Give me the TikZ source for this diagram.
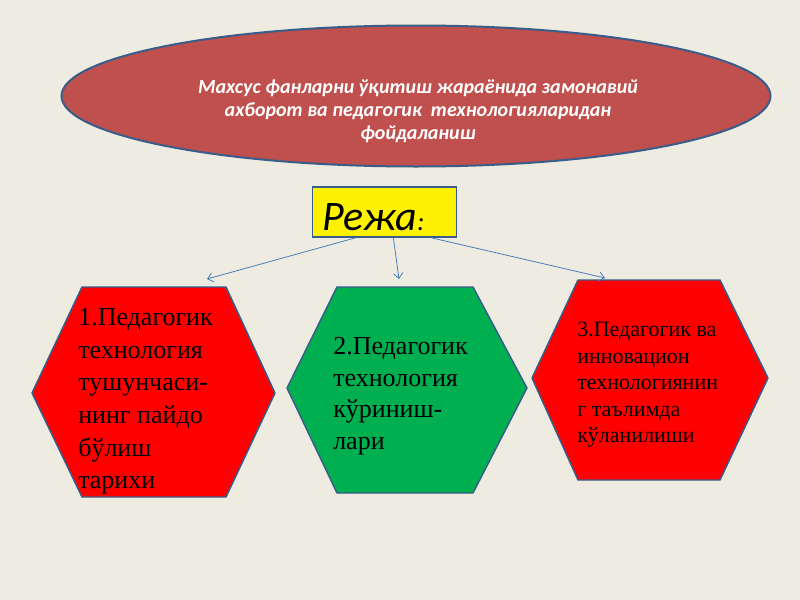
\documentclass[tikz,border=0pt]{standalone}
\usepackage{fontspec}
\setmainfont{Liberation Serif}
\newfontfamily\calibri{Carlito}
\usetikzlibrary{shapes.geometric,arrows.meta}
\definecolor{bgcol}{HTML}{EEECE1}
\definecolor{ovalred}{HTML}{C0504D}
\definecolor{edgeblue}{HTML}{385D8A}
\definecolor{arrowblue}{HTML}{4A7EBB}
\definecolor{hexgreen}{HTML}{00B050}
\begin{document}
\begin{tikzpicture}[x=0.75pt, y=-0.75pt,
    hexa/.style={draw=edgeblue, line width=1.1pt, line join=round},
    hextext/.style={anchor=north west, inner sep=0pt, align=left},
    link/.style={draw=arrowblue, line width=0.6pt, -{Straight Barb[length=4pt,width=7pt]}}]
    \fill[bgcol] (0,0) rectangle (800,600);
    \useasboundingbox (0,0) rectangle (800,600);
    \node[ellipse, draw=edgeblue, line width=1.5pt, fill=ovalred, inner sep=0pt,
        minimum width=531.75pt, minimum height=105.75pt] (topic) at (416,96) {};
    \node[align=center, text=white, font=\calibri\bfseries\itshape\fontsize{15}{17.25}\selectfont]
        (topictext) at (418,111) {Махсус фанларни ўқитиш жараёнида замонавий\\
        ахборот ва педагогик\ \ технологияларидан\\ фойдаланиш};
    \node[draw=edgeblue, line width=1pt, fill=yellow, minimum width=108pt, minimum height=37.5pt,
        inner sep=0pt] (plan) at (384.5,212) {};
    \node[anchor=base west, inner sep=0pt, font=\calibri\itshape\fontsize{31.5}{36}\selectfont]
        (plantext) at (322,230) {Режа{\fontsize{20}{24}\selectfont:}};
    \filldraw[hexa, fill=red] (82,287)--(226,287)--(275,393)--(226,497)--(82,497)--(32,393)--cycle;
    \filldraw[hexa, fill=hexgreen] (337,287)--(473,287)--(527,388)--(473,493)--(337,493)--(287,388)--cycle;
    \filldraw[hexa, fill=red] (578,280)--(720,280)--(768,378)--(720,480)--(578,480)--(532,378)--cycle;
    \node[hextext, font=\fontsize{19.5}{24.5}\selectfont] (first) at (78,308)
        {1.Педагогик\\ технология\\ тушунчаси-\\ нинг пайдо\\ бўлиш\\ тарихи};
    \node[hextext, font=\fontsize{19.5}{23.8}\selectfont] (second) at (333,337)
        {2.Педагогик\\ технология\\ кўриниш-\\ лари};
    \node[hextext, font=\fontsize{16.5}{19.9}\selectfont] (third) at (577,322)
        {3.Педагогик ва\\ инновацион\\ технологиянин\\ г таълимда\\ кўланилиши};
    \coordinate (end1) at (207,279);
    \coordinate (end2) at (399,279);
    \coordinate (end3) at (605,278);
    \draw[link] (plan.222) -- (end1);
    \draw[link] (plan.289) -- (end2);
    \draw[link] (plan.331) -- (end3);
\end{tikzpicture}
\end{document}
